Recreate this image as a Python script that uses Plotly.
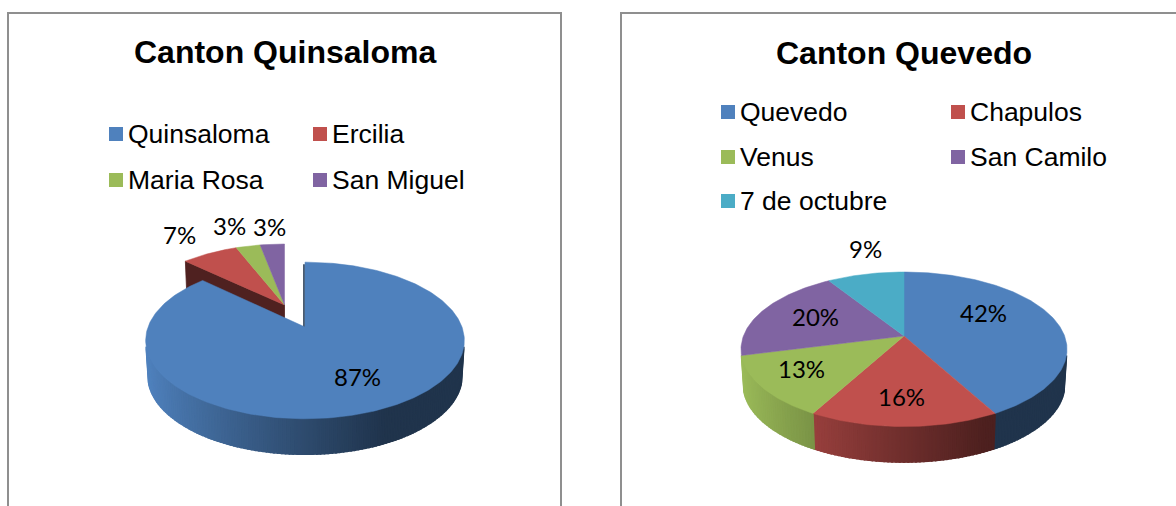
import math
import plotly.graph_objects as go

# ---- data ----
left_title = "Canton Quinsaloma"
left_categories = ["Quinsaloma", "Ercilia", "Maria Rosa", "San Miguel"]
left_values = [87, 7, 3, 3]
right_title = "Canton Quevedo"
right_categories = ["Quevedo", "Chapulos", "Venus", "San Camilo", "7 de octubre"]
right_values = [42, 16, 13, 20, 9]
colors = ["#4f81bd", "#c0504d", "#9bbb59", "#8064a2", "#4bacc6"]

# ---- styling / placement ----
FRAME = "#8f8f8f"
TITLE_FONT = dict(family="Liberation Sans", size=32, color="#000000")
LEG_FONT = dict(family="Liberation Sans", size=26.5, color="#000000")
LAB_FONT = dict(family="Lato", size=24, color="#000000")
DEPTH = 35.5
K_PERSP = 0.172
BOTTOM = 0.985

left_legend_xy = [(116, 134), (320, 134), (116, 180), (320, 180)]
right_legend_xy = [(728, 112), (958, 112), (728, 157), (958, 157), (728, 201)]
left_label_xy = [(357, 376), (179, 234), (229, 225), (269, 226)]
right_label_xy = [(983, 312), (901, 396), (801, 368), (815, 316), (865, 248)]

fig = go.Figure()


def rim(apex, A, B, u):
    """Projected rim point for cumulative share u (0..1), clockwise from the back."""
    t = 2 * math.pi * u
    d = 1 + K_PERSP * math.cos(t)
    return apex[0] + A * math.sin(t) / d, apex[1] - B * math.cos(t) / d


def low(apex, p):
    return apex[0] + (p[0] - apex[0]) * BOTTOM, p[1] + DEPTH


def shade(hex_color, f):
    r, g, b = (int(hex_color[i:i + 2], 16) for i in (1, 3, 5))
    return f"rgb({r * f:.0f},{g * f:.0f},{b * f:.0f})"


def poly(pts, color, lw=0.8):
    xs = [p[0] for p in pts] + [pts[0][0]]
    ys = [p[1] for p in pts] + [pts[0][1]]
    fig.add_trace(go.Scatter(x=xs, y=ys, mode="lines", fill="toself", fillcolor=color,
                             line=dict(color=color, width=lw), hoverinfo="skip",
                             showlegend=False))


def wall_factor(x, x0, x1):
    frac = (x - x0) / (x1 - x0)
    return 1 - 0.6 * min(1.0, max(0.0, frac / 0.75)) ** 0.85


def draw_walls(apex, A, B, start, share, color, x0, x1):
    n = max(2, int(share * 300))
    for i in range(n):
        u0 = start + share * i / n
        u1 = start + share * (i + 1) / n
        mid = (u0 + u1) / 2
        if math.cos(2 * math.pi * mid) > -0.24:
            continue
        a, b = rim(apex, A, B, u0), rim(apex, A, B, u1)
        f = wall_factor((a[0] + b[0]) / 2, x0, x1)
        poly([a, b, low(apex, b), low(apex, a)], shade(color, f), lw=1.6)


def draw_top(apex, A, B, start, share, color):
    n = max(4, int(share * 360))
    pts = [apex] + [rim(apex, A, B, start + share * i / n) for i in range(n + 1)]
    poly(pts, color, lw=0.5)


def radial_wall(apex, A, B, u, color):
    p = rim(apex, A, B, u)
    poly([apex, p, low(apex, p), (apex[0], apex[1] + DEPTH)], color)


# ---- left pie: the small slices are pulled out, drawn first, then the big slice ----
total = sum(left_values)
shares = [v / total for v in left_values]
big_apex, small_apex = (305, 327), (284.5, 305)
big_A, big_B = 157, 76
small_A, small_B = 152, 71.5
x0, x1 = 147, 465

radial_wall(small_apex, small_A, small_B, shares[0], shade(colors[1], 0.41))
cum = shares[0]
for s, c in zip(shares[1:], colors[1:]):
    draw_top(small_apex, small_A, small_B, cum, s, c)
    cum += s

# thin inner face of the big slice
p0 = rim(big_apex, big_A, big_B, 0)
fig.add_trace(go.Scatter(x=[big_apex[0] - 1, p0[0] - 1], y=[big_apex[1] + 2, p0[1] + 2], mode="lines",
                         line=dict(color=shade(colors[0], 0.4), width=1.6),
                         hoverinfo="skip", showlegend=False))
draw_walls(big_apex, big_A, big_B, 0, shares[0], colors[0], x0, x1)
draw_top(big_apex, big_A, big_B, 0, shares[0], colors[0])

# ---- right pie ----
total = sum(right_values)
shares = [v / total for v in right_values]
apex = (904, 336)
A, B = 160.6, 75
x0, x1 = 741, 1067
cum = 0
for s, c in zip(shares, colors):
    draw_walls(apex, A, B, cum, s, c, x0, x1)
    cum += s
cum = 0
for s, c in zip(shares, colors):
    draw_top(apex, A, B, cum, s, c)
    cum += s


# ---- legends and labels ----
def legend(cats, xy):
    for cat, (x, y), c in zip(cats, xy, colors):
        fig.add_trace(go.Scatter(x=[x], y=[y], mode="markers",
                                 marker=dict(symbol="square", size=14, color=c),
                                 hoverinfo="skip", showlegend=False))
        fig.add_annotation(x=x + 10, y=y, text=cat, showarrow=False, xanchor="left",
                           yanchor="middle", font=LEG_FONT)


legend(left_categories, left_legend_xy)
legend(right_categories, right_legend_xy)

for vals, xy in ((left_values, left_label_xy), (right_values, right_label_xy)):
    for v, (x, y) in zip(vals, xy):
        fig.add_annotation(x=x, y=y, text=f"{v}%", showarrow=False, font=LAB_FONT)

fig.add_annotation(x=285, y=52, text=f"<b>{left_title}</b>", showarrow=False, font=TITLE_FONT)
fig.add_annotation(x=904, y=53, text=f"<b>{right_title}</b>", showarrow=False, font=TITLE_FONT)

# ---- frames (their lower edges run off the picture) ----
for x_a, x_b in ((8, 561), (621, 1200)):
    fig.add_shape(type="rect", x0=x_a, x1=x_b, y0=13, y1=540, xref="x", yref="y",
                  line=dict(color=FRAME, width=2), layer="below")

fig.update_layout(width=1176, height=506, margin=dict(l=0, r=0, t=0, b=0),
                  paper_bgcolor="white", plot_bgcolor="white", showlegend=False,
                  xaxis=dict(range=[0, 1176], visible=False, fixedrange=True),
                  yaxis=dict(range=[506, 0], visible=False, fixedrange=True))

fig.write_html("out.html", config={"displayModeBar": False},
               post_script="document.body.style.margin='0';document.body.style.overflow='hidden';")
